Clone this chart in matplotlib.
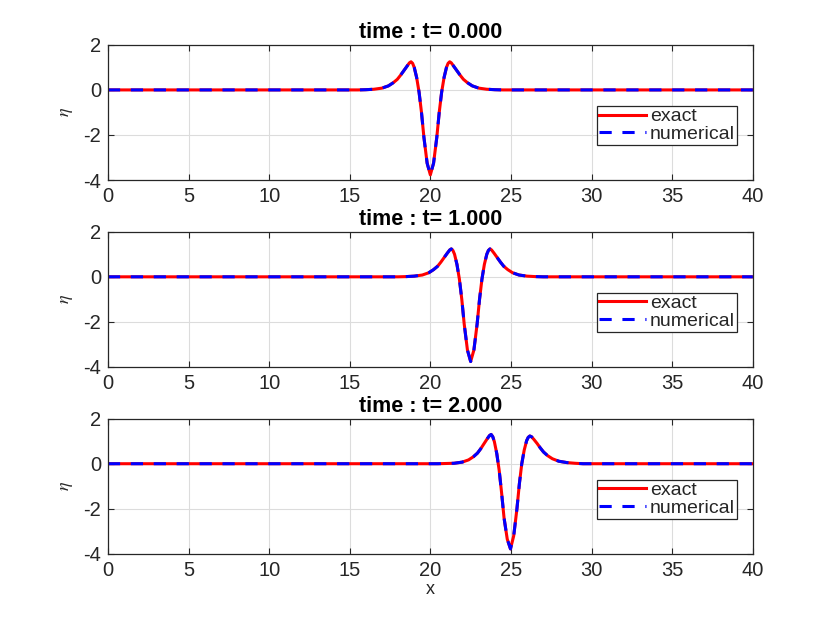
import matplotlib
matplotlib.use("Agg")
import matplotlib.pyplot as plt
import numpy as np

plt.rcParams['font.family'] = ['Liberation Sans', 'DejaVu Sans']
plt.rcParams['axes.unicode_minus'] = False
plt.rcParams['mathtext.fontset'] = 'stix'

## data
times = [0.0, 1.0, 2.0]
centers = [20.0, 22.5, 24.97]

# offsets from the trough centre
offsets = [-4.5, -4.0, -3.5, -3.0, -2.6, -2.3, -2.05, -1.85, -1.65, -1.45, -1.3, -1.2, -1.1, -1.0,
           -0.85, -0.7, -0.55, -0.4, -0.2, 0.0, 0.2, 0.4, 0.55, 0.7, 0.85, 1.0, 1.1, 1.2, 1.3,
           1.45, 1.65, 1.85, 2.05, 2.3, 2.6, 3.0, 3.5, 4.0, 4.5]

eta_t0 = [0.0, 0.01, 0.03, 0.08, 0.18, 0.32, 0.47, 0.65, 0.85, 1.05, 1.2, 1.25, 1.18, 1.0,
          0.55, -0.1, -1.0, -2.1, -3.25, -3.77, -3.25, -2.1, -1.0, -0.1, 0.55, 1.0, 1.18, 1.25, 1.2,
          1.05, 0.85, 0.65, 0.47, 0.32, 0.18, 0.08, 0.03, 0.01, 0.0]

eta_t1 = [0.0, 0.01, 0.03, 0.08, 0.18, 0.32, 0.47, 0.65, 0.85, 1.05, 1.19, 1.24, 1.17, 1.0,
          0.55, -0.1, -1.0, -2.1, -3.25, -3.76, -3.25, -2.1, -1.0, -0.1, 0.55, 1.0, 1.17, 1.24, 1.19,
          1.05, 0.85, 0.65, 0.47, 0.32, 0.18, 0.08, 0.03, 0.01, 0.0]

eta_t2 = [0.0, 0.01, 0.02, 0.07, 0.17, 0.31, 0.47, 0.66, 0.88, 1.1, 1.25, 1.3, 1.2, 0.98,
          0.45, -0.3, -1.3, -2.4, -3.35, -3.78, -3.2, -2.0, -0.9, 0.0, 0.6, 1.02, 1.17, 1.23, 1.2,
          1.08, 0.9, 0.7, 0.52, 0.36, 0.22, 0.11, 0.05, 0.02, 0.0]

profiles = [eta_t0, eta_t1, eta_t2]

xticks = [0, 5, 10, 15, 20, 25, 30, 35, 40]
yticks = [-4, -2, 0, 2]

fig = plt.figure(figsize=(8.3, 6.23), dpi=100)

lefts = 0.130
width = 0.777
bottoms = [0.711, 0.411, 0.111]
height = 0.217

for i in range(3):
    ax = fig.add_axes([lefts, bottoms[i], width, height])
    xs = [0.0] + [centers[i] + d for d in offsets] + [40.0]
    ys = [0.0] + profiles[i] + [0.0]
    ax.plot(xs, ys, color=(1, 0, 0), lw=2.2, label='exact')
    ax.plot(xs, ys, color=(0, 0, 1), lw=2.2, linestyle=(0, (4, 3.5)), label='numerical')
    ax.set_xlim(0, 40)
    ax.set_ylim(-4, 2)
    ax.set_xticks(xticks)
    ax.set_yticks(yticks)
    ax.grid(True, color='#dcdcdc', lw=0.8)
    ax.set_axisbelow(True)
    ax.tick_params(direction='in', top=True, right=True, labelsize=14.5,
                   color='#262626', labelcolor='#262626', length=4, pad=5)
    for s in ax.spines.values():
        s.set_color('#262626')
        s.set_linewidth(0.9)
    ax.set_title('time : t= %.3f' % times[i], fontsize=15.5, fontweight='bold', pad=5)
    ax.set_ylabel(r'$\eta$', fontsize=13, labelpad=6, color='#262626')
    leg = ax.legend(loc='lower right', bbox_to_anchor=(0.975, 0.26), fontsize=14,
                    handlelength=2.4, handletextpad=0.2, borderpad=0.1, labelspacing=0.0,
                    fancybox=False, framealpha=1, edgecolor='#262626', borderaxespad=0)
    leg.get_frame().set_linewidth(0.9)
    for t in leg.get_texts():
        t.set_color('#262626')
    if i == 2:
        ax.set_xlabel('x', fontsize=13, labelpad=1, color='#262626')

fig.savefig('out.png', dpi=100)
